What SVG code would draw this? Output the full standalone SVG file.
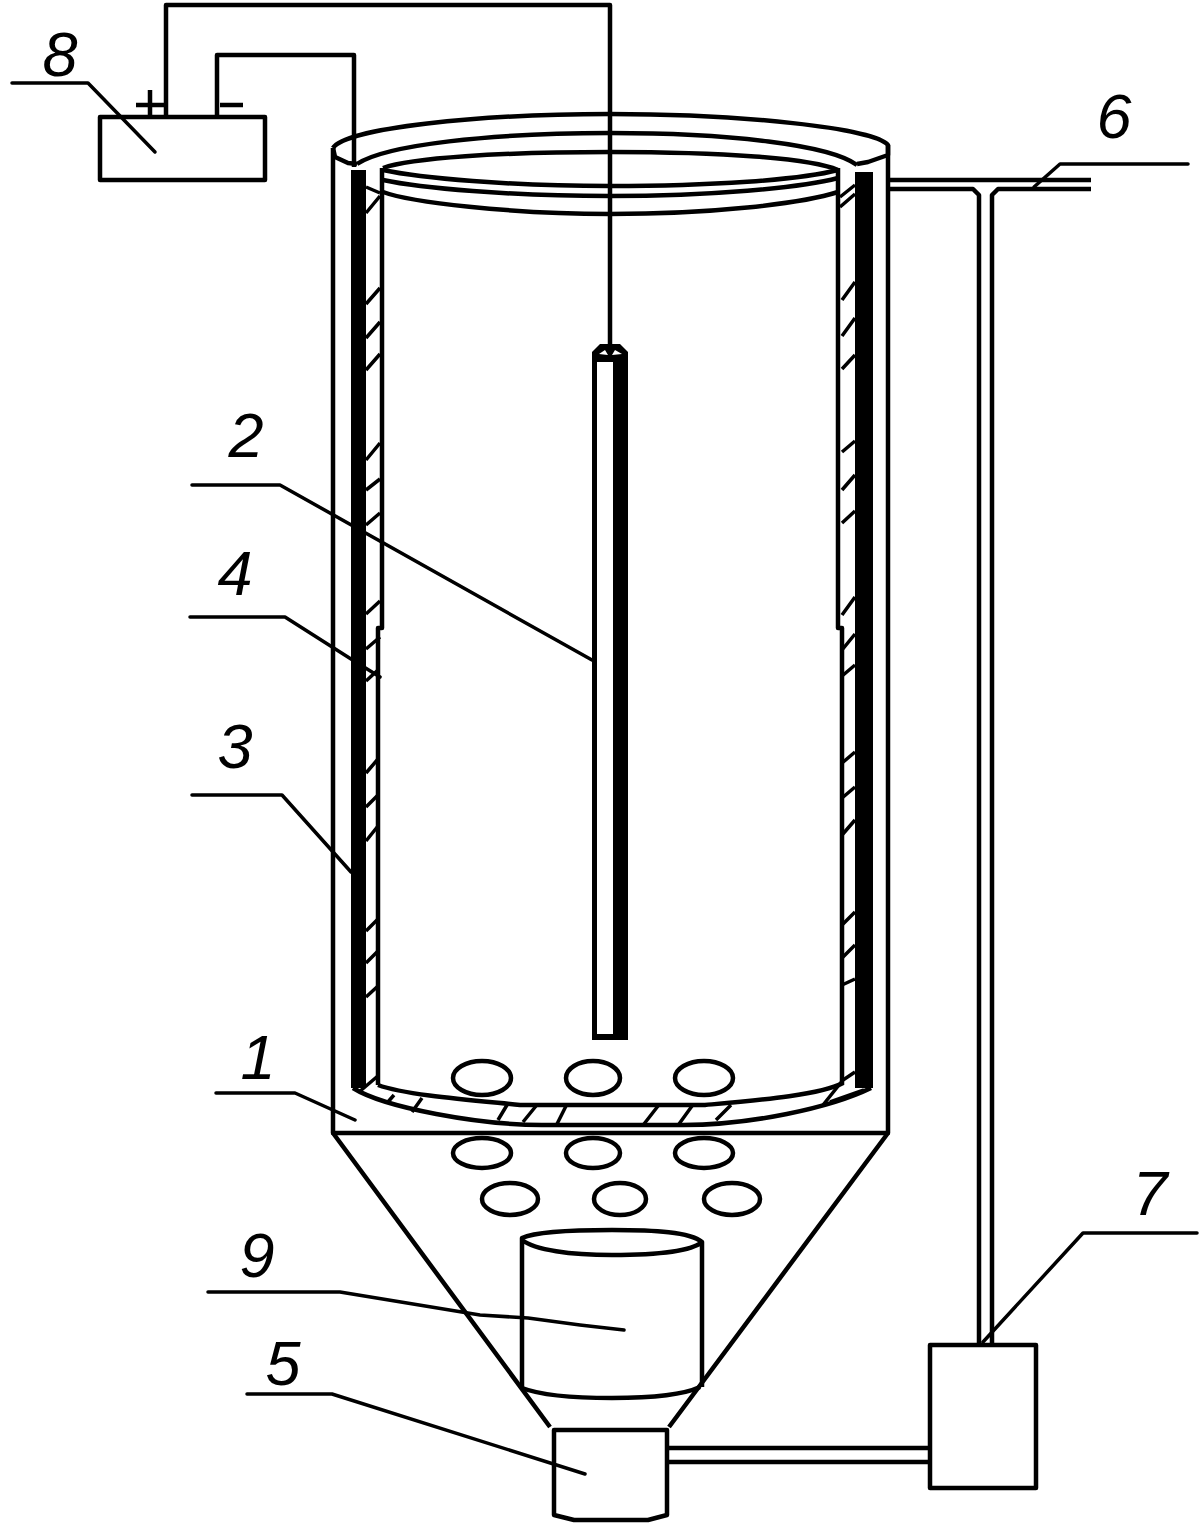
<svg xmlns="http://www.w3.org/2000/svg" width="1203" height="1528" viewBox="0 0 1203 1528">
<style>
.l{fill:none;stroke:#000;stroke-width:4.5;stroke-linejoin:round;stroke-linecap:butt}
.t{fill:none;stroke:#000;stroke-width:3.5;stroke-linejoin:round;stroke-linecap:round}
.h{fill:none;stroke:#000;stroke-width:3.5}
.n{font-family:"Liberation Sans",Arial,sans-serif;font-style:italic;font-size:63px;fill:#000;text-anchor:middle}
.d{fill:#000}
.w{fill:#fff}
</style>
<rect width="1203" height="1528" fill="#fff"/>
<g id="connectors">
<path class="l" d="M166 117V5H610V352"/>
<path class="l" d="M217 117V55H354V167"/>
<path class="l" d="M889 180H1091M889 189H973L979 195V1345M992 1345V195L998 189H1091"/>
<path class="l" d="M667 1448H930M667 1462H930"/>
</g>
<g id="node-8">
<rect class="l" x="100" y="117" width="165" height="63"/>
<path class="l" d="M136 105H164M150 90V117M220 105H243"/>
<path class="t" d="M12 83H88L155 152"/>
<text class="n" x="60" y="76">8</text>
</g>
<g id="node-1">
<path class="l" d="M333 148V1133H888V145"/>
<path class="l" d="M333 1133L550 1427M888 1133L669 1427"/>
<path class="t" d="M216 1093H295L355 1120"/>
<text class="n" x="258" y="1079">1</text>
</g>
<g id="vessel-rim">
<path class="l" d="M333 148C345 128 480 114 610 114C740 114 875 128 888 145V155L868 162L857 164"/>
<path class="l" d="M333 148L335 157L348 163L357 164"/>
<path class="l" d="M357 164C385 145 490 133 610 133C730 133 830 145 857 165"/>
<path class="l" d="M383 168C410 158 500 152 610 152C720 152 810 158 838 170"/>
<path class="l" d="M383 170C420 178 510 186 610 186C710 186 800 180 838 170"/>
<path class="l" d="M383 180C420 188 510 196 610 196C710 196 800 188 838 178"/>
<path class="l" d="M383 192C410 202 510 214 610 214C710 214 800 204 838 192"/>
</g>
<g id="node-3">
<rect class="d" x="351" y="170" width="15" height="918"/>
<rect class="d" x="855" y="172" width="18" height="916"/>
<path class="t" d="M192 795H282L351 872"/>
<text class="n" x="235" y="768">3</text>
</g>
<g id="node-4">
<path class="l" d="M382 168V628H378V1085M838 168V628H842V1085"/>
<path class="h" d="M366 187L380 193M366 213L380 196M366 304L380 288M366 338L380 322M366 370L380 354M366 460L380 443M366 490L380 479M366 525L380 513M366 614L380 601M366 649L380 637M366 681L378 670M366 773L378 759M366 807L378 795M366 841L378 826M366 931L378 919M366 963L378 951M366 997L378 986"/>
<path class="h" d="M840 197L855 185M840 207L855 194M842 300L855 282M842 336L855 318M842 369L855 355M842 452L855 441M842 490L855 475M842 523L855 511M842 615L855 597M842 650L855 634M842 676L855 665M842 763L855 752M842 798L855 787M842 835L855 820M842 925L855 912M842 958L855 945M842 985L855 979"/>
<path class="t" d="M190 617H285L351 659L380 677"/>
<text class="n" x="235" y="595">4</text>
</g>
<g id="vessel-bottom">
<path class="l" d="M378 1085C405 1095 470 1100 520 1105H705C760 1100 820 1095 843 1083"/>
<path class="l" d="M353 1088C385 1108 480 1125 542 1125H683C750 1125 830 1108 871 1088"/>
<path class="h" d="M359 1092L379 1075M387 1103L394 1095M412 1112L422 1098M498 1120L507 1105M523 1122L536 1106M557 1124L566 1106M644 1124L658 1106M679 1124L692 1106M716 1120L731 1105M823 1105L843 1080L855 1072M830 1102L864 1090"/>
</g>
<g id="bubbles">
<ellipse class="l" cx="482" cy="1078" rx="29" ry="17"/>
<ellipse class="l" cx="593" cy="1078" rx="27" ry="17"/>
<ellipse class="l" cx="704" cy="1078" rx="29" ry="17"/>
<ellipse class="l" cx="482" cy="1153" rx="29" ry="15"/>
<ellipse class="l" cx="593" cy="1153" rx="27" ry="15"/>
<ellipse class="l" cx="704" cy="1153" rx="29" ry="15"/>
<ellipse class="l" cx="510" cy="1199" rx="28" ry="16"/>
<ellipse class="l" cx="620" cy="1199" rx="26" ry="16"/>
<ellipse class="l" cx="732" cy="1199" rx="28" ry="16"/>
</g>
<g id="node-2">
<path class="d" d="M592 1040V352L600 344H620L628 352V1040Z"/>
<rect class="w" x="597" y="362" width="16" height="672"/>
<path class="w" d="M599 354L605 350L608 355ZM612 355L615 350L622 354Z"/>
<path class="t" d="M192 485H280L592 660"/>
<text class="n" x="246" y="457">2</text>
</g>
<g id="node-6">
<path class="t" d="M1188 164H1060L1034 187"/>
<text class="n" x="1114" y="138">6</text>
</g>
<g id="node-7">
<rect class="l" x="930" y="1345" width="106" height="143"/>
<path class="t" d="M1197 1233H1083L983 1342"/>
<text class="n" x="1150" y="1215">7</text>
</g>
<g id="node-9">
<path class="l" d="M522 1388V1238C535 1232 570 1230 612 1230C655 1230 690 1232 702 1242V1387M522 1240C535 1250 570 1255 612 1255C655 1255 690 1252 702 1242"/>
<path class="l" d="M522 1388C540 1395 570 1398 612 1398C655 1398 685 1394 700 1387"/>
<path class="t" d="M208 1292H340L480 1315L528 1318L580 1325L624 1330"/>
<text class="n" x="257" y="1277">9</text>
</g>
<g id="node-5">
<path class="l" d="M554 1430H667V1515L648 1520H574L554 1515Z"/>
<path class="t" d="M247 1394H332L585 1474"/>
<text class="n" x="283" y="1385">5</text>
</g>
</svg>
